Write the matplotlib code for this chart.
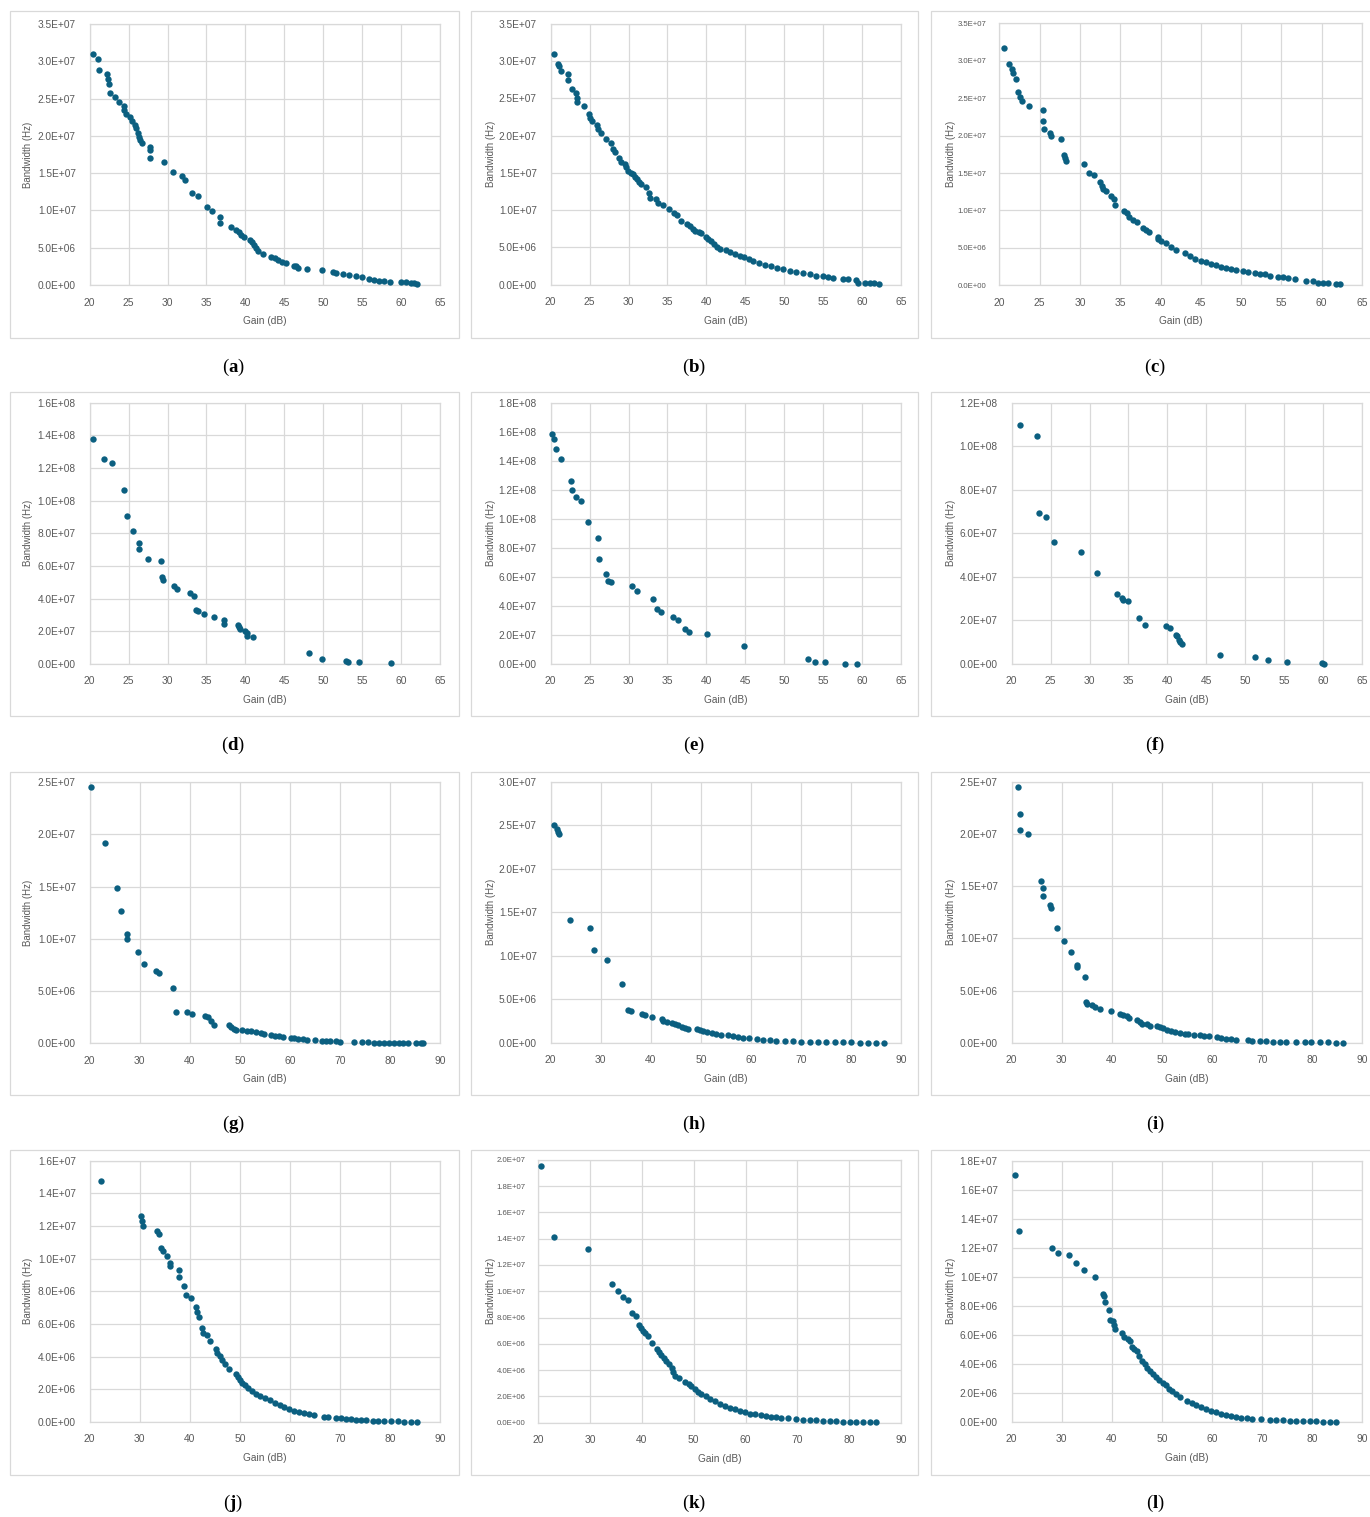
import numpy as np
import matplotlib
matplotlib.use("Agg")
import matplotlib.pyplot as plt
from matplotlib.ticker import FuncFormatter, MultipleLocator
from matplotlib.patches import Rectangle

plt.rcParams['font.family'] = ['Liberation Sans', 'DejaVu Sans']
plt.rcParams['mathtext.fontset'] = 'custom'
plt.rcParams['mathtext.rm'] = 'Liberation Serif'
plt.rcParams['mathtext.bf'] = 'Liberation Serif:bold'

# ---------------- data (gain in dB, bandwidth in MHz -> Hz) ----------------
gain_a = [20.43, 21.07, 21.24, 22.18, 22.35, 22.52, 22.6, 23.3, 23.8, 24.36, 24.45, 24.7, 25.17, 25.43,
          25.8, 26.0, 26.16, 26.3, 26.46, 26.7, 27.7, 27.78, 27.78, 29.58, 30.65, 31.9, 32.2, 33.2, 33.96,
          35.1, 35.74, 36.72, 36.8, 38.14, 38.78, 39.16, 39.46, 39.8, 40.6, 40.86, 41.16, 41.37, 41.6, 42.3,
          43.3, 43.74, 44.25, 44.67, 45.2, 46.2, 46.56, 46.8, 47.9, 49.8, 51.2, 51.6, 52.6, 53.36, 54.2, 55.0,
          55.9, 56.57, 57.2, 57.85, 58.6, 60.0, 60.6, 61.27, 61.7, 62.0]
bw_a = [30.98, 30.27, 28.84, 28.3, 27.6, 26.96, 25.8, 25.2, 24.55, 24.0, 23.5, 22.95, 22.5, 21.96,
        21.43, 21.0, 20.45, 19.9, 19.46, 19.1, 18.57, 18.13, 17.0, 16.56, 15.09, 14.55, 14.1, 12.3, 12.0,
        10.5, 9.96, 9.15, 8.3, 7.77, 7.41, 7.05, 6.74, 6.38, 5.98, 5.76, 5.4, 4.96, 4.5, 4.15,
        3.75, 3.57, 3.3, 3.13, 2.95, 2.6, 2.5, 2.23, 2.1, 2.05, 1.74, 1.56, 1.43, 1.3, 1.2, 1.07,
        0.8, 0.62, 0.58, 0.54, 0.45, 0.36, 0.36, 0.31, 0.27, 0.13]

gain_b = [20.38, 20.98, 21.1, 21.28, 22.22, 22.18, 22.7, 23.25, 23.34, 23.42, 24.32, 24.92, 25.05, 25.3,
          25.95, 26.03, 26.46, 27.06, 27.7, 28.04, 28.25, 28.8, 28.97, 29.54, 29.67, 29.96, 30.26, 30.52,
          30.78, 31.04, 31.29, 31.59, 32.23, 32.6, 32.74, 33.47, 33.73, 34.46, 35.23, 35.9, 36.25, 36.77,
          37.45, 37.88, 38.22, 38.56, 38.99, 39.3, 39.9, 40.27, 40.6, 40.96, 41.3, 41.73, 42.5, 43.0, 43.65,
          44.3, 44.85, 45.5, 46.0, 46.7, 47.5, 48.36, 49.1, 49.86, 50.7, 51.57, 52.4, 53.28, 54.13, 55.0,
          55.6, 56.27, 57.55, 58.2, 59.26, 59.48, 60.33, 60.97, 61.49, 62.17]
bw_b = [30.93, 29.59, 29.36, 28.74, 28.25, 27.48, 26.28, 25.7, 25.02, 24.49, 23.95, 22.87, 22.34, 21.98,
        21.44, 20.9, 20.32, 19.52, 19.07, 18.17, 17.82, 17.05, 16.52, 16.2, 15.76, 15.3, 15.04, 14.82,
        14.5, 14.14, 13.83, 13.47, 13.16, 12.27, 11.68, 11.46, 11.01, 10.7, 10.16, 9.58, 9.31, 8.5,
        8.15, 7.83, 7.52, 7.21, 7.03, 6.89, 6.36, 6.13, 5.82, 5.46, 5.1, 4.79, 4.66, 4.39, 4.12,
        3.89, 3.67, 3.4, 3.22, 2.95, 2.69, 2.46, 2.24, 2.06, 1.88, 1.75, 1.57, 1.43, 1.21, 1.12,
        1.03, 0.94, 0.81, 0.76, 0.63, 0.27, 0.27, 0.27, 0.22, 0.09]

gain_c = [20.58, 21.16, 21.53, 21.69, 22.07, 22.31, 22.52, 22.77, 23.64, 25.37, 25.37, 25.5, 26.32, 26.36,
          27.6, 28.02, 28.14, 28.26, 30.45, 31.12, 31.78, 32.48, 32.73, 32.81, 33.3, 33.8, 34.17, 34.38,
          35.45, 35.9, 36.1, 36.53, 37.1, 37.85, 38.26, 38.6, 39.63, 39.71, 40.12, 40.74, 41.36, 41.98,
          43.0, 43.64, 44.26, 45.08, 45.7, 46.32, 46.94, 47.56, 48.18, 48.8, 49.42, 50.25, 50.87, 51.69,
          52.31, 52.93, 53.55, 54.59, 55.2, 55.83, 56.65, 58.1, 58.93, 59.55, 60.17, 60.79, 61.82, 62.31]
bw_c = [31.66, 29.56, 28.85, 28.32, 27.56, 25.82, 25.2, 24.62, 24.0, 23.46, 21.95, 20.93, 20.35, 19.99,
        19.55, 17.41, 16.96, 16.56, 16.16, 15.05, 14.78, 13.76, 13.31, 12.87, 12.6, 11.93, 11.58, 10.73,
        9.93, 9.71, 9.17, 8.73, 8.5, 7.7, 7.39, 7.12, 6.5, 6.14, 5.92, 5.61, 5.16, 4.72,
        4.36, 3.92, 3.56, 3.29, 3.07, 2.85, 2.67, 2.49, 2.36, 2.18, 2.05, 1.96, 1.78, 1.69,
        1.56, 1.47, 1.29, 1.16, 1.11, 0.98, 0.8, 0.62, 0.53, 0.36, 0.31, 0.27, 0.22, 0.18]

gain_d = [20.43, 21.88, 22.82, 24.45, 24.79, 25.6, 26.29, 26.29, 27.48, 29.2, 29.28, 29.41, 30.78, 31.2,
          32.83, 33.38, 33.6, 33.9, 34.67, 35.96, 37.28, 37.28, 38.99, 39.12, 39.25, 39.93, 40.23, 40.19,
          40.96, 48.14, 49.8, 52.93, 53.23, 54.6, 58.75]
bw_d = [137.8, 125.7, 122.9, 106.7, 90.8, 81.2, 73.9, 70.6, 64.5, 62.9, 53.5, 51.2, 47.8, 45.7,
        43.7, 41.4, 33.1, 32.2, 30.8, 28.6, 26.7, 24.7, 24.1, 22.4, 21.2, 20.4, 19.2, 16.9,
        16.5, 6.5, 2.9, 1.8, 1.4, 1.4, 0.6]

gain_e = [20.21, 20.47, 20.68, 21.37, 22.57, 22.78, 23.29, 23.89, 24.75, 26.07, 26.16, 27.06, 27.36, 27.79,
          30.48, 31.08, 33.13, 33.6, 34.15, 35.65, 36.38, 37.28, 37.75, 40.06, 44.85, 53.06, 53.92, 55.2,
          57.81, 59.3]
bw_e = [158.2, 155.0, 148.1, 141.0, 126.0, 120.0, 115.0, 112.0, 97.6, 87.0, 72.3, 61.8, 57.4, 56.2,
        53.5, 50.0, 44.5, 37.9, 36.0, 32.1, 30.3, 23.9, 21.8, 20.7, 12.6, 3.2, 1.6, 1.6,
        0.3, 0.1]

gain_f = [21.07, 23.29, 23.46, 24.45, 25.43, 28.9, 30.9, 33.51, 34.2, 34.28, 35.0, 36.3, 37.1, 39.88,
          40.3, 41.08, 41.25, 41.5, 41.68, 41.85, 46.8, 51.3, 52.93, 55.4, 59.9, 60.16]
bw_f = [109.9, 104.9, 69.2, 67.5, 56.2, 51.3, 41.6, 32.3, 30.3, 29.2, 28.8, 21.3, 18.1, 17.3,
        16.5, 13.3, 12.7, 10.9, 9.9, 9.0, 4.0, 3.1, 1.8, 0.8, 0.5, 0.1]

gain_g = [20.2, 23.0, 25.52, 26.25, 27.39, 27.45, 29.65, 30.91, 33.17, 33.77, 36.56, 37.23, 39.43, 40.36,
          43.02, 43.62, 44.29, 44.76, 47.75, 48.28, 48.74, 49.21, 50.41, 51.47, 52.27, 53.27, 54.27, 54.93,
          56.13, 56.93, 57.73, 58.66, 60.13, 60.92, 61.72, 62.58, 63.45, 65.05, 66.37, 67.24, 67.97, 69.24,
          69.97, 72.76, 74.36, 75.56, 76.89, 77.88, 78.88, 79.88, 80.88, 81.88, 82.54, 83.54, 85.2, 86.2, 86.67]
bw_g = [24.52, 19.13, 14.83, 12.63, 10.49, 10.01, 8.71, 7.59, 6.95, 6.76, 5.26, 3.0, 2.97, 2.84,
        2.58, 2.49, 2.17, 1.79, 1.79, 1.53, 1.4, 1.28, 1.28, 1.21, 1.15, 1.08, 0.99, 0.92,
        0.83, 0.73, 0.67, 0.61, 0.51, 0.48, 0.41, 0.38, 0.35, 0.29, 0.26, 0.22, 0.19, 0.19,
        0.16, 0.13, 0.1, 0.1, 0.06, 0.06, 0.06, 0.03, 0.03, 0.03, 0.02, 0.02, 0.01, 0.01, 0.01]

gain_h = [20.73, 21.2, 21.4, 21.66, 23.86, 27.78, 28.58, 31.24, 34.17, 35.5, 36.03, 38.3, 38.83, 40.29,
          42.29, 42.49, 43.16, 44.16, 44.82, 45.49, 46.15, 46.82, 47.49, 49.15, 49.81, 50.47, 51.27, 52.14,
          53.13, 54.13, 55.46, 56.46, 57.46, 58.46, 59.66, 61.13, 62.45, 63.78, 65.11, 66.77, 68.44, 70.1,
          71.76, 73.43, 75.09, 76.75, 78.42, 80.08, 81.74, 83.4, 85.07, 86.6]
bw_h = [25.09, 24.55, 24.24, 23.97, 14.08, 13.2, 10.66, 9.51, 6.71, 3.76, 3.68, 3.3, 3.22, 2.99,
        2.69, 2.45, 2.38, 2.3, 2.15, 1.99, 1.84, 1.69, 1.53, 1.53, 1.42, 1.3, 1.19, 1.07,
        1.0, 0.92, 0.84, 0.73, 0.65, 0.58, 0.5, 0.42, 0.35, 0.31, 0.23, 0.19, 0.15, 0.12,
        0.12, 0.08, 0.08, 0.04, 0.04, 0.04, 0.02, 0.02, 0.01, 0.01]

gain_i = [21.2, 21.66, 21.66, 23.26, 25.85, 26.32, 26.32, 27.58, 27.78, 29.05, 30.38, 31.91, 32.97, 33.11,
          34.7, 34.77, 35.1, 36.1, 36.63, 37.56, 39.83, 41.62, 42.29, 42.95, 43.49, 44.95, 45.62, 45.95,
          47.08, 47.61, 48.94, 49.61, 50.27, 51.07, 51.93, 52.6, 53.6, 54.6, 55.27, 56.46, 57.59, 58.46,
          59.45, 61.05, 61.92, 62.91, 63.78, 64.78, 67.24, 68.1, 69.57, 70.9, 72.23, 73.56, 74.89, 76.89,
          78.55, 79.88, 81.54, 83.2, 84.87, 86.2]
bw_i = [24.52, 21.9, 20.43, 20.01, 15.5, 14.8, 14.1, 13.2, 12.88, 11.0, 9.78, 8.7, 7.42, 7.23,
        6.3, 3.87, 3.68, 3.61, 3.39, 3.26, 3.07, 2.75, 2.65, 2.53, 2.33, 2.14, 1.98, 1.82,
        1.79, 1.63, 1.57, 1.47, 1.37, 1.25, 1.12, 1.02, 0.96, 0.86, 0.8, 0.77, 0.7, 0.64,
        0.61, 0.51, 0.45, 0.38, 0.35, 0.29, 0.22, 0.19, 0.16, 0.13, 0.1, 0.1, 0.06, 0.06,
        0.03, 0.03, 0.03, 0.02, 0.01, 0.01]

gain_j = [22.33, 30.31, 30.51, 30.58, 33.37, 33.77, 34.17, 34.7, 35.5, 35.97, 36.1, 37.76, 37.76, 38.9,
          39.3, 40.16, 41.16, 41.36, 41.82, 42.42, 42.62, 43.49, 44.09, 45.22, 45.48, 46.08, 46.48, 47.08,
          47.74, 49.27, 49.61, 50.07, 50.47, 50.94, 51.6, 52.4, 53.27, 54.13, 55.06, 55.93, 56.93, 57.93,
          58.92, 59.92, 60.92, 61.92, 62.91, 63.91, 64.91, 66.91, 67.7, 69.24, 70.23, 71.23, 72.23, 73.23,
          74.23, 75.22, 76.55, 77.55, 78.88, 80.21, 81.54, 82.87, 84.2, 85.4]
bw_j = [14.78, 12.59, 12.29, 12.0, 11.67, 11.51, 10.65, 10.45, 10.16, 9.71, 9.55, 9.29, 8.9, 8.31,
        7.78, 7.57, 7.04, 6.73, 6.45, 5.73, 5.47, 5.31, 4.98, 4.47, 4.2, 4.04, 3.78, 3.55,
        3.27, 2.94, 2.73, 2.55, 2.39, 2.24, 2.08, 1.92, 1.73, 1.57, 1.45, 1.35, 1.16, 1.02,
        0.9, 0.78, 0.69, 0.61, 0.53, 0.47, 0.41, 0.33, 0.29, 0.27, 0.22, 0.2, 0.16, 0.14,
        0.12, 0.1, 0.08, 0.06, 0.06, 0.04, 0.04, 0.02, 0.02, 0.01]

gain_k = [20.51, 22.96, 29.51, 34.14, 35.36, 36.32, 37.35, 38.05, 38.83, 39.41, 39.79, 40.24, 40.57, 41.08,
          41.85, 43.0, 43.33, 43.71, 44.23, 44.74, 45.26, 45.71, 46.03, 46.35, 47.19, 48.28, 49.05, 49.56,
          50.21, 50.85, 51.49, 52.33, 53.1, 54.06, 55.03, 55.99, 56.95, 57.92, 58.88, 59.85, 60.81, 61.77,
          62.93, 64.02, 64.99, 65.95, 66.92, 68.2, 69.81, 71.09, 72.38, 73.66, 74.95, 76.23, 77.52, 78.8,
          80.09, 81.37, 82.66, 83.94, 85.23]
bw_k = [19.52, 14.09, 13.21, 10.52, 10.01, 9.58, 9.35, 8.31, 8.14, 7.45, 7.2, 7.0, 6.82, 6.59,
        6.03, 5.63, 5.37, 5.12, 4.92, 4.66, 4.46, 4.16, 3.85, 3.57, 3.4, 3.07, 2.94, 2.76,
        2.59, 2.36, 2.18, 2.0, 1.83, 1.62, 1.44, 1.29, 1.14, 1.01, 0.89, 0.79, 0.68, 0.63,
        0.61, 0.51, 0.46, 0.41, 0.35, 0.33, 0.28, 0.23, 0.2, 0.18, 0.15, 0.13, 0.1, 0.08,
        0.08, 0.05, 0.05, 0.03, 0.03]

gain_l = [20.73, 21.46, 27.98, 29.18, 31.51, 32.77, 34.5, 36.7, 38.16, 38.36, 38.7, 39.36, 39.56, 40.16,
          40.43, 40.63, 41.96, 42.42, 43.29, 43.69, 44.02, 44.42, 45.08, 45.48, 46.01, 46.61, 47.08, 47.61,
          48.14, 48.81, 49.47, 50.14, 50.8, 51.47, 52.13, 52.93, 53.73, 55.06, 55.93, 56.79, 57.73, 58.79,
          59.92, 60.92, 61.92, 62.91, 63.91, 64.91, 65.9, 67.04, 68.1, 69.9, 71.56, 72.89, 74.23, 75.56,
          76.89, 78.22, 79.55, 80.88, 82.21, 83.54, 84.74]
bw_l = [16.99, 13.18, 11.98, 11.66, 11.48, 10.97, 10.47, 9.96, 8.84, 8.65, 8.29, 7.71, 7.05, 6.93,
        6.7, 6.41, 6.15, 5.88, 5.72, 5.58, 5.17, 5.05, 4.87, 4.52, 4.22, 3.99, 3.72, 3.54,
        3.31, 3.1, 2.87, 2.69, 2.53, 2.3, 2.11, 1.93, 1.74, 1.47, 1.33, 1.17, 1.01, 0.87,
        0.76, 0.67, 0.57, 0.48, 0.41, 0.34, 0.3, 0.25, 0.21, 0.21, 0.16, 0.14, 0.11, 0.09,
        0.07, 0.07, 0.05, 0.05, 0.02, 0.02, 0.02]

panel_labels = ['a', 'b', 'c', 'd', 'e', 'f', 'g', 'h', 'i', 'j', 'k', 'l']
x_ranges = [(20, 65, 5)] * 6 + [(20, 90, 10)] * 6
y_ranges = [(3.5e7, 5e6), (3.5e7, 5e6), (3.5e7, 5e6), (1.6e8, 2e7), (1.8e8, 2e7), (1.2e8, 2e7),
            (2.5e7, 5e6), (3.0e7, 5e6), (2.5e7, 5e6), (1.6e7, 2e6), (2.0e7, 2e6), (1.8e7, 2e6)]
gains = [gain_a, gain_b, gain_c, gain_d, gain_e, gain_f, gain_g, gain_h, gain_i, gain_j, gain_k, gain_l]
bws = [bw_a, bw_b, bw_c, bw_d, bw_e, bw_f, bw_g, bw_h, bw_i, bw_j, bw_k, bw_l]

# ---------------- layout (pixel boxes) ----------------
W, H = 1370, 1517
fig = plt.figure(figsize=(W / 100, H / 100), dpi=100)
fig.patch.set_facecolor('white')

ax_boxes = [
    (89.7, 440, 24, 285), (550.7, 901, 24, 284.7), (999.3, 1362, 23.3, 285.3),
    (89.7, 440, 402.7, 664), (550.7, 901, 402.7, 664), (1011.7, 1362, 402.7, 664),
    (89.7, 440, 782, 1043.3), (550.7, 901, 782, 1042.7), (1011.7, 1362, 782, 1042.7),
    (89.7, 440, 1160.7, 1422), (538.3, 901, 1159.7, 1422.7), (1011.7, 1362, 1160.7, 1422),
]
frame_x = [(9.5, 458.5), (471.5, 918), (931.5, 1372)]
frame_y = [(11.5, 337.5), (391.5, 716), (771.5, 1094.5), (1150, 1474.5)]
label_y = [367, 745, 1124, 1503]
label_x = [233, 694, 1155]

MARK = '#0B5F80'
GRID = '#D9D9D9'
TXT = '#595959'

def fmt(v, pos):
    return f"{v:.1E}"

for i in range(12):
    r, c = divmod(i, 3)
    fx0, fx1 = frame_x[c]
    fy0, fy1 = frame_y[r]
    fig.patches.append(Rectangle((fx0 / W, 1 - fy1 / H), (fx1 - fx0) / W, (fy1 - fy0) / H,
                                 transform=fig.transFigure, fill=False, edgecolor=GRID, lw=0.9))
    x0, x1, y0, y1 = ax_boxes[i]
    ax = fig.add_axes([x0 / W, 1 - y1 / H, (x1 - x0) / W, (y1 - y0) / H])
    xmin, xmax, xstep = x_ranges[i]
    ymax, ystep = y_ranges[i]
    ax.scatter(np.array(gains[i]), np.array(bws[i]) * 1e6, s=21, color=MARK, linewidths=0, zorder=3,
               clip_on=False)
    ax.set_xlim(xmin, xmax)
    ax.set_ylim(0, ymax)
    ax.xaxis.set_major_locator(MultipleLocator(xstep))
    ax.yaxis.set_major_locator(MultipleLocator(ystep))
    ax.yaxis.set_major_formatter(FuncFormatter(fmt))
    ax.grid(True, color=GRID, lw=0.9, zorder=0)
    ax.set_axisbelow(True)
    for sp in ax.spines.values():
        sp.set_color(GRID)
        sp.set_linewidth(0.9)
    small = i in (2, 10)
    ax.tick_params(axis='both', length=0, colors=TXT)
    ax.tick_params(axis='x', labelsize=7.4, pad=9)
    ax.tick_params(axis='y', labelsize=5.6 if small else 7.3, pad=9 if small else 10)
    ax.set_xlabel('Gain (dB)', fontsize=7.3, color=TXT, labelpad=6)
    ax.set_ylabel('Bandwidth (Hz)', fontsize=7.0, color=TXT)
    ax.yaxis.set_label_coords(-(x0 - (frame_x[c][0] + 24)) / (x1 - x0), 0.5)
    fig.text(label_x[c] / W, 1 - label_y[r] / H, '(' + r'$\mathbf{' + panel_labels[i] + '}$' + ')',
             ha='center', va='center', fontsize=13.5, family='Liberation Serif', color='black')

fig.savefig('out.png', dpi=100, facecolor='white')
